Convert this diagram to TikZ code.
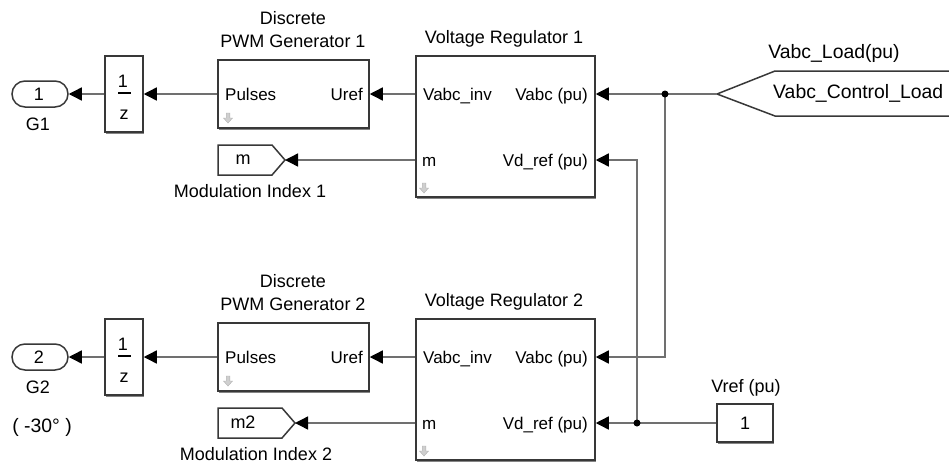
\documentclass[tikz,border=0pt]{standalone}
\usepackage{fontspec}
\setmainfont{Liberation Sans}
\usetikzlibrary{arrows.meta,shadows}
\definecolor{wirec}{HTML}{707070}
\definecolor{blockc}{HTML}{383838}
\definecolor{iconc}{HTML}{CFCFCF}
\newcommand\lblfont{\fontsize{18}{21}\selectfont}
\newcommand\biglblfont{\fontsize{19.4}{22}\selectfont}
\newcommand\portfont{\fontsize{17}{20}\selectfont}

\begin{document}
\begin{tikzpicture}[x=1pt,y=-1pt,
  blk/.style={rectangle, draw=blockc, line width=1.5pt, fill=white, inner sep=0pt,
    drop shadow={shadow xshift=1.3pt, shadow yshift=-1.5pt, fill=black!60, opacity=0.8}},
  outport/.style={rectangle, draw=blockc, line width=1.5pt, fill=white, inner sep=0pt,
    rounded corners=13pt, minimum width=56pt, minimum height=26pt},
  tagshape/.style={draw=blockc, line width=1.5pt, fill=white},
  wire/.style={draw=wirec, line width=1.4pt, -{Triangle[length=13pt,width=13pt,color=black]}},
  plainwire/.style={draw=wirec, line width=1.4pt},
  lbl/.style={inner sep=0pt, font=\lblfont, anchor=base},
  port/.style={inner sep=0pt, font=\portfont},
  jdot/.style={circle, fill=black, inner sep=0pt, minimum size=7pt},
  dnicon/.pic={\path[fill=iconc, draw=iconc!85!black, line width=0.4pt]
    (-1.8,-5) -- (1.8,-5) -- (1.8,0) -- (4.5,0) -- (0,5) -- (-4.5,0) -- (-1.8,0) -- cycle;}
]
\useasboundingbox (0,0) rectangle (949,466);
\clip (0,0) rectangle (949,466);

% ---------- upper channel ----------
\node[outport] (out1) at (40,94) {};
\node[lbl] (out1n) at (39,100) {1};
\node[lbl] (g1) at (38,130) {G1};

\node[blk, minimum width=38pt, minimum height=76pt] (d1) at (124,94) {};
\node[lbl] (d1num) at (123,87) {1};
\draw[line width=1.2pt] (118,93) -- (131,93);
\node[lbl] (d1den) at (124,119) {z};

\node[blk, minimum width=151pt, minimum height=68pt] (pwm1) at (293.5,94) {};
\node[lbl] (pwm1a) at (293,24) {Discrete};
\node[lbl] (pwm1b) at (293,47) {PWM Generator 1};
\node[port, anchor=base west] (pwm1p) at (225,100) {Pulses};
\node[port, anchor=base east] (pwm1u) at (363,100) {Uref};
\pic at (228,118) {dnicon};

\node[blk, minimum width=179pt, minimum height=141pt] (vr1) at (505.5,126.5) {};
\node[lbl] (vr1t) at (504,43) {Voltage Regulator 1};
\node[port, anchor=base west] (vr1i) at (423,100) {Vabc\_inv};
\node[port, anchor=base west] (vr1m) at (422,166) {m};
\node[port, anchor=base east] (vr1v) at (588,100) {Vabc (pu)};
\node[port, anchor=base east] (vr1d) at (588,166) {Vd\_ref (pu)};
\pic at (424,188) {dnicon};

\path[tagshape] (218,145) -- (272,145) -- (285,160) -- (272,175) -- (218,175) -- cycle;
\coordinate (m1tip) at (285,160);
\node[lbl] (m1n) at (243,164) {m};
\node[lbl] (mi1) at (250,197) {Modulation Index 1};

\path[tagshape] (960,71) -- (775,71) -- (717,94) -- (775,116) -- (960,116);
\coordinate (fromtip) at (717,94);
\node[lbl, font=\biglblfont, anchor=base west] (fromn) at (773,98) {Vabc\_Control\_Load};
\node[lbl, font=\biglblfont] (fromt) at (834,58) {Vabc\_Load(pu)};

% ---------- lower channel ----------
\node[outport] (out2) at (40,357) {};
\node[lbl] (out2n) at (39,363) {2};
\node[lbl] (g2) at (38,393) {G2};
\node[lbl, font=\biglblfont] (phase) at (42,432) {( -30° )};

\node[blk, minimum width=38pt, minimum height=76pt] (d2) at (124,357) {};
\node[lbl] (d2num) at (123,350) {1};
\draw[line width=1.2pt] (118,356) -- (131,356);
\node[lbl] (d2den) at (124,382) {z};

\node[blk, minimum width=151pt, minimum height=68pt] (pwm2) at (293.5,357) {};
\node[lbl] (pwm2a) at (293,287) {Discrete};
\node[lbl] (pwm2b) at (293,310) {PWM Generator 2};
\node[port, anchor=base west] (pwm2p) at (225,363) {Pulses};
\node[port, anchor=base east] (pwm2u) at (363,363) {Uref};
\pic at (228,381) {dnicon};

\node[blk, minimum width=179pt, minimum height=141pt] (vr2) at (505.5,389.5) {};
\node[lbl] (vr2t) at (504,306) {Voltage Regulator 2};
\node[port, anchor=base west] (vr2i) at (423,363) {Vabc\_inv};
\node[port, anchor=base west] (vr2m) at (422,429) {m};
\node[port, anchor=base east] (vr2v) at (588,363) {Vabc (pu)};
\node[port, anchor=base east] (vr2d) at (588,429) {Vd\_ref (pu)};
\pic at (424,451) {dnicon};

\path[tagshape] (218,408) -- (282,408) -- (295,423) -- (282,438) -- (218,438) -- cycle;
\coordinate (m2tip) at (295,423);
\node[lbl] (m2n) at (243,428) {m2};
\node[lbl] (mi2) at (256,460) {Modulation Index 2};

\node[blk, minimum width=56pt, minimum height=38pt] (vref) at (745,423) {};
\node[lbl] (vrefn) at (745,429) {1};
\node[lbl] (vreft) at (746,392) {Vref (pu)};

% ---------- signal lines ----------
\coordinate (j1) at (665,94);
\coordinate (j2) at (637,423);

\draw[wire] (vr1.west |- pwm1.east) -- (pwm1.east);
\draw[wire] (pwm1.west) -- (d1.east);
\draw[wire] (d1.west) -- (out1.east);
\draw[wire] (vr1.west |- m1tip) -- (m1tip);

\draw[wire] (vr2.west |- pwm2.east) -- (pwm2.east);
\draw[wire] (pwm2.west) -- (d2.east);
\draw[wire] (d2.west) -- (out2.east);
\draw[wire] (vr2.west |- m2tip) -- (m2tip);

\draw[plainwire] (fromtip) -- (j1);
\draw[wire] (j1) -- (vr1.east |- j1);
\draw[wire] (j1) |- (vr2.east |- pwm2.east);

\draw[plainwire] (vref.west) -- (j2);
\draw[wire] (j2) -- (vr2.east |- j2);
\draw[wire] (j2) |- (vr1.east |- m1tip);

\node[jdot] (j1dot) at (j1) {};
\node[jdot] (j2dot) at (j2) {};
\end{tikzpicture}
\end{document}
